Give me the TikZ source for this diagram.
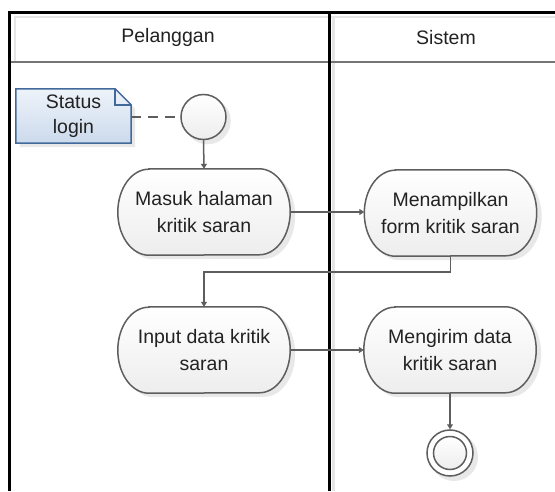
\documentclass[tikz,border=0pt]{standalone}
\usepackage{fontspec}
\setmainfont{Liberation Sans}
\usetikzlibrary{arrows.meta,calc}
\definecolor{lineg}{HTML}{5E5E5E}
\definecolor{sepgray}{HTML}{757575}
\definecolor{txt}{HTML}{222222}
\definecolor{noteline}{HTML}{41699A}
\definecolor{notetop}{HTML}{EEF3FA}
\definecolor{notebot}{HTML}{CCDAEC}
\pgfdeclarelayer{background}
\pgfsetlayers{background,main}
\newcommand\activity[3]{%
  \node[acttext] (#1) at (#2) {#3};
  \begin{pgfonlayer}{background}
  \fill[shadowfill] ($(#1.north west)+(34,-4)$) -- ($(#1.north east)+(-26,-4)$)
     arc[start angle=90,end angle=-90,x radius=31pt,y radius=43pt]
     -- ($(#1.south west)+(35,-4)$)
     arc[start angle=270,end angle=90,x radius=31pt,y radius=43pt] -- cycle;
  \path[actshape] ($(#1.north west)+(31,0)$) -- ($(#1.north east)+(-31,0)$)
     arc[start angle=90,end angle=-90,x radius=31pt,y radius=43pt]
     -- ($(#1.south west)+(31,0)$)
     arc[start angle=270,end angle=90,x radius=31pt,y radius=43pt] -- cycle;
  \end{pgfonlayer}}
\begin{document}
\begin{tikzpicture}[x=1pt,y=1pt,
  lane/.style={line width=2.8pt, draw=black, line join=miter},
  lanesep/.style={line width=2pt, draw=sepgray},
  laneshadow/.style={line width=2.4pt, draw=black!10},
  title/.style={font=\fontsize{19.5}{23}\selectfont, text=txt, inner sep=0pt},
  acttext/.style={minimum width=172pt, minimum height=86pt, inner sep=0pt, align=center,
     font=\fontsize{19.5}{27}\selectfont, text=txt},
  actshape/.style={draw=lineg, line width=1.5pt, top color=white, bottom color=black!7},
  shadowfill/.style={fill=black!9},
  notetext/.style={minimum width=115pt, minimum height=54pt, inner sep=0pt, align=center,
     font=\fontsize{19.5}{25}\selectfont, text=txt},
  noteshape/.style={draw=noteline, line width=1.5pt, top color=notetop, bottom color=notebot, line join=miter},
  startnode/.style={circle, minimum size=45pt, inner sep=0pt, draw=lineg, line width=1.5pt,
     top color=white, bottom color=black!7},
  endouter/.style={circle, minimum size=46pt, inner sep=0pt, draw=lineg, line width=1.5pt, fill=white},
  endinner/.style={circle, minimum size=33pt, inner sep=0pt, draw=lineg, line width=1.5pt,
     top color=white, bottom color=black!7},
  conn/.style={draw=lineg, line width=1.5pt, -{Triangle[width=6pt,length=5pt]}},
  dashconn/.style={draw=lineg, line width=1.5pt, dash pattern=on 10pt off 7pt}
]
\useasboundingbox (0,0) rectangle (555,491);
\begin{pgfonlayer}{background}
  \fill[white] (0,0) rectangle (555,491);
  \draw[laneshadow] (15,428.5) -- (15,474) -- (555,474);
  \draw[laneshadow] (333.3,0) -- (333.3,474);
  \draw[lanesep] (9.5,428.5) -- (555,428.5);
  \draw[lane] (9.5,0) -- (9.5,478.5) -- (555,478.5);
  \draw[lane] (329.3,0) -- (329.3,478.5);
\end{pgfonlayer}
\node[title] (lane1) at (168,453.5) {Pelanggan};
\node[title] (lane2) at (446,453.5) {Sistem};

% note
\node[notetext] (note) at (73.5,375) {Status\\login};
\begin{pgfonlayer}{background}
  \fill[shadowfill] ($(note.north west)+(4,-4)$) -- ($(note.north east)+(-12,-4)$)
     -- ($(note.north east)+(4,-20)$) -- ($(note.south east)+(4,-4)$)
     -- ($(note.south west)+(4,-4)$) -- cycle;
  \path[noteshape] (note.north west) -- ($(note.north east)+(-16,0)$)
     -- ($(note.north east)+(0,-16)$) -- (note.south east) -- (note.south west) -- cycle;
  \draw[draw=noteline, line width=1.5pt, line join=miter] ($(note.north east)+(-16,0)$)
     -- ($(note.north east)+(-16,-16)$) -- ($(note.north east)+(0,-16)$);
\end{pgfonlayer}

% start
\node[startnode] (start) at (203.5,374) {};
\begin{pgfonlayer}{background}
  \fill[shadowfill] ($(start.center)+(4,-4)$) circle[radius=23.3pt];
\end{pgfonlayer}

\activity{masuk}{204,279}{Masuk halaman\\kritik saran}
\activity{tampil}{450.5,278}{Menampilkan\\form kritik saran}
\activity{input}{204,141}{Input data kritik\\saran}
\activity{kirim}{450,141}{Mengirim data\\kritik saran}

% end
\node[endouter] (end) at (450,38) {};
\node[endinner] (endin) at (end) {};
\begin{pgfonlayer}{background}
  \fill[shadowfill] ($(end.center)+(4,-4)$) circle[radius=24pt];
\end{pgfonlayer}

% connectors
\draw[dashconn] (note.east |- start.west) -- (start.west);
\draw[conn] (start.south) -- (masuk.north);
\draw[conn] (masuk.east) -- (masuk.east -| tampil.west);
\draw[conn] (tampil.south) -- ++(0,-16) -| (input.north);
\draw[conn] (input.east) -- (kirim.west);
\draw[conn] (kirim.south) -- (end.north);
\end{tikzpicture}
\end{document}
